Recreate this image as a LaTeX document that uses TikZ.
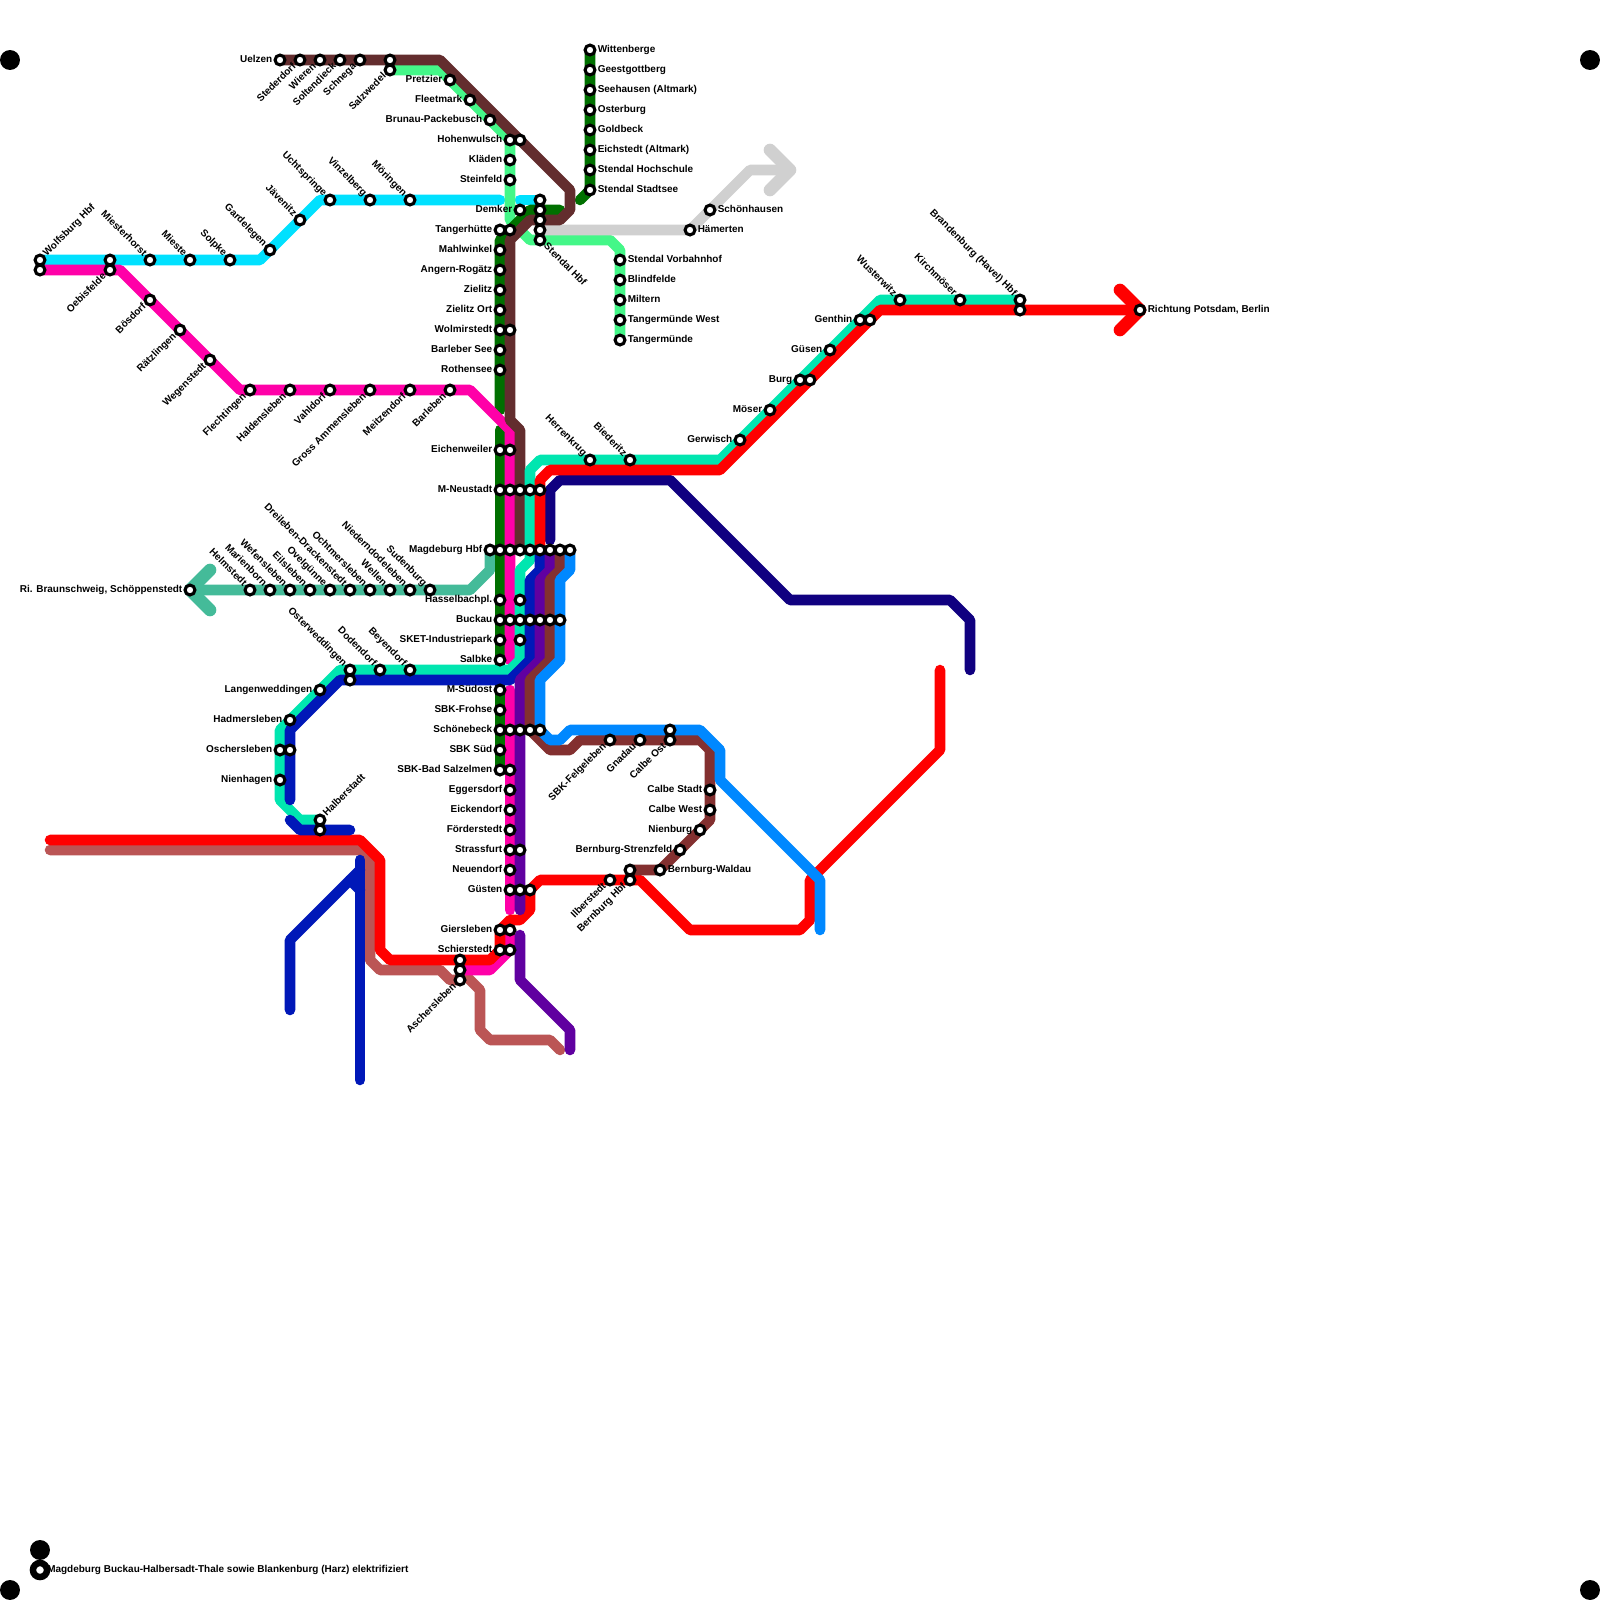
\documentclass[tikz,border=0pt]{standalone}
\usepackage{fontspec}
\setmainfont{Liberation Sans}
\usetikzlibrary{positioning}
\definecolor{lncyan}{HTML}{00E1FF}
\definecolor{lnpink}{HTML}{FF00A8}
\definecolor{lnbrown}{HTML}{632D2E}
\definecolor{lnlime}{HTML}{44F788}
\definecolor{lngreen}{HTML}{007000}
\definecolor{lnteal}{HTML}{00E6B0}
\definecolor{lnnavy}{HTML}{100080}
\definecolor{lnblue}{HTML}{0018B8}
\definecolor{lnpurple}{HTML}{6000A0}
\definecolor{lnrust}{HTML}{833030}
\definecolor{lnsky}{HTML}{0088FF}
\definecolor{lnrose}{HTML}{BB5555}
\definecolor{lnsage}{HTML}{44BB99}
\definecolor{lngray}{HTML}{D0D0D0}
\tikzset{
  track/.style={line width=7.5pt, line cap=round, line join=round},
  barb/.style={track, line width=9pt},
  stop/.style={circle, draw=black, fill=white, line width=2.2pt, minimum size=7pt, inner sep=0pt, outer sep=0pt},
  lab/.style={font=\bfseries\fontsize{7.1}{8}\selectfont, inner sep=0pt, text=black, text height=5.1pt, text depth=1.5pt},
  labw/.style={lab, anchor=east},
  labe/.style={lab, anchor=west},
  labnw/.style={lab, anchor=east, rotate=-45},
  labsw/.style={lab, anchor=east, rotate=45},
  labne/.style={lab, anchor=west, rotate=45},
  labse/.style={lab, anchor=west, rotate=-45},
  corner/.style={circle, fill=black, minimum size=14.2pt, inner sep=0pt, outer sep=0pt},
}
\begin{document}
\begin{tikzpicture}[x=0.25cm, y=-0.25cm]
  \useasboundingbox (0,0) rectangle (160,160);
  % lines
  \draw[track, lncyan] (4,26) -- (26,26) -- (32,20) -- (50,20);
  \draw[track, lncyan] (52,20) -- (54,20);
  \draw[track, lnlime] (39,7) -- (44,7) -- (51,14) -- (51,22) -- (53,24) -- (61,24) -- (62,25) -- (62,34);
  \draw[track, lnsage] (49,55) -- (49,57) -- (47,59) -- (19,59);
  \draw[barb, lnsage] (21,57) -- (19,59) -- (21,61);
  \draw[track, lngray] (54,23) -- (69,23) -- (75,17) -- (79,17);
  \draw[barb, lngray] (77,15) -- (79,17) -- (77,19);
  \draw[track, lnrose] (5,85) -- (36,85) -- (37,86) -- (37,96) -- (38,97) -- (44,97) -- (45,98) -- (46,98);
  \draw[track, lnrose] (46,97) -- (48,99) -- (48,103) -- (49,104) -- (55,104) -- (56,105);
  \draw[track, lnnavy] (55,54) -- (55,49) -- (56,48) -- (67,48) -- (79,60) -- (95,60) -- (97,62) -- (97,67);
  \draw[track, lngreen] (59,5) -- (59,19) -- (58,20);
  \draw[track, lngreen] (56,21) -- (53,21) -- (50,24) -- (50,41);
  \draw[track, lngreen] (50,43) -- (50,77);
  \draw[track, lnpink] (4,27) -- (12,27) -- (24,39) -- (47,39) -- (51,43) -- (51,66);
  \draw[track, lnpink] (51,69) -- (51,91);
  \draw[track, lnpink] (51,93) -- (51,95) -- (49,97) -- (46,97);
  \draw[track, lnbrown] (28,6) -- (44,6) -- (57,19) -- (57,21) -- (56,22) -- (53,22) -- (51,24) -- (51,42) -- (52,43) -- (52,55);
  \draw[track, lnteal] (102,30) -- (88,30) -- (72,46) -- (54,46) -- (53,47) -- (53,56) -- (52,57) -- (52,66) -- (51,67) -- (34,67) -- (28,73) -- (28,80) -- (30,82) -- (32,82);
  \draw[track, red] (5,84) -- (36,84) -- (38,86) -- (38,95) -- (39,96) -- (49,96) -- (50,95) -- (50,93) -- (51,92) -- (52,92) -- (53,91) -- (53,89) -- (54,88) -- (64,88) -- (69,93) -- (80,93) -- (81,92) -- (81,88) -- (94,75) -- (94,67);
  \draw[track, red] (54,55) -- (54,48) -- (55,47) -- (72,47) -- (88,31) -- (114,31);
  \draw[barb, red] (112,29) -- (114,31) -- (112,33);
  \draw[track, lnblue] (54,55) -- (54,57) -- (53,58) -- (53,66) -- (51,68) -- (34,68) -- (29,73) -- (29,80);
  \draw[track, lnblue] (29,82) -- (30,83) -- (35,83);
  \draw[track, lnblue] (36,86) -- (36,108);
  \draw[track, lnblue] (29,101) -- (29,94) -- (36,87);
  \draw[track, lnblue] (35,88) -- (36,89);
  \draw[track, lnpurple] (55,55) -- (55,57) -- (54,58) -- (54,66) -- (52,68) -- (52,91);
  \draw[track, lnpurple] (52,93.5) -- (52,98) -- (57,103) -- (57,105);
  \draw[track, lnrust] (56,55) -- (56,57) -- (55,58) -- (55,66) -- (53,68) -- (53,73) -- (55,75) -- (57,75) -- (58,74) -- (70,74) -- (71,75) -- (71,82) -- (66,87) -- (63,87);
  \draw[track, lnsky] (57,55) -- (57,57) -- (56,58) -- (56,66) -- (54,68) -- (54,73) -- (55,74) -- (56,74) -- (57,73) -- (70,73) -- (72,75) -- (72,78) -- (82,88) -- (82,93);
  % corner marks
  \node[corner] (cornera) at (1,6) {};
  \node[corner] (cornerb) at (159,6) {};
  \node[corner] (cornerc) at (1,159) {};
  \node[corner] (cornere) at (159,159) {};
  \node[corner] (cornerd) at (4,155) {};
  \node[circle, draw=black, fill=white, line width=4.6pt, minimum size=10pt, inner sep=0pt, outer sep=0pt] (note) at (4,157) {};
  \node[labe] at (4.7,157) {Magdeburg Buckau-Halbersadt-Thale sowie Blankenburg (Harz) elektrifiziert};
  % stops without a name of their own
  \foreach \x/\y in {4/27, 11/26, 39/6, 52/14, 51/23, 51/33, 51/45, 51/49, 52/49, 53/49, 54/49,
    50/55, 51/55, 52/55, 53/55, 54/55, 55/55, 56/55, 57/55, 52/60, 51/62, 52/62, 53/62, 54/62, 55/62, 56/62,
    52/64, 35/68, 29/75, 51/73, 52/73, 53/73, 54/73, 51/77, 52/85, 52/89, 53/89, 51/93, 51/95,
    46/96, 46/97, 54/20, 54/21, 54/22, 54/23, 32/83, 67/73, 63/87, 81/38, 87/32, 102/31}
    \node[stop] (s\x-\y) at (\x,\y) {};
  % labels to the left
  \foreach \x/\y/\t in {28/6/Uelzen, 45/8/Pretzier, 47/10/Fleetmark, 49/12/Brunau-Packebusch, 51/14/Hohenwulsch,
    51/16/Kläden, 51/18/Steinfeld, 52/21/Demker, 50/23/Tangerhütte, 50/25/Mahlwinkel, 50/27/Angern-Rogätz,
    50/29/Zielitz, 50/31/Zielitz Ort, 50/33/Wolmirstedt, 50/35/Barleber See, 50/37/Rothensee, 50/45/Eichenweiler,
    50/49/M-Neustadt, 49/55/Magdeburg Hbf, 50/60/Hasselbachpl., 50/62/Buckau, 50/64/SKET-Industriepark, 50/66/Salbke,
    50/69/M-Südost, 50/71/SBK-Frohse, 50/73/Schönebeck, 50/75/SBK Süd, 50/77/SBK-Bad Salzelmen, 51/79/Eggersdorf,
    51/81/Eickendorf, 51/83/Förderstedt, 51/85/Strassfurt, 51/87/Neuendorf, 51/89/Güsten, 50/93/Giersleben,
    50/95/Schierstedt, 19/59/{Ri. Braunschweig, Schöppenstedt}, 32/69/Langenweddingen, 29/72/Hadmersleben,
    28/75/Oschersleben, 28/78/Nienhagen, 86/32/Genthin, 83/35/Güsen, 80/38/Burg, 77/41/Möser, 74/44/Gerwisch,
    71/79/Calbe Stadt, 71/81/Calbe West, 70/83/Nienburg, 68/85/Bernburg-Strenzfeld}
    \path (\x,\y) node[stop] (s\x-\y) {} ++(-0.75,0) node[labw] {\t};
  % labels to the right
  \foreach \x/\y/\t in {59/5/Wittenberge, 59/7/Geestgottberg, 59/9/Seehausen (Altmark), 59/11/Osterburg, 59/13/Goldbeck,
    59/15/Eichstedt (Altmark), 59/17/Stendal Hochschule, 59/19/Stendal Stadtsee, 62/26/Stendal Vorbahnhof,
    62/28/Blindfelde, 62/30/Miltern, 62/32/Tangermünde West, 62/34/Tangermünde, 71/21/Schönhausen, 69/23/Hämerten,
    114/31/{Richtung Potsdam, Berlin}, 66/87/Bernburg-Waldau}
    \path (\x,\y) node[stop] (s\x-\y) {} ++(0.75,0) node[labe] {\t};
  % slanted labels, up and left
  \foreach \x/\y/\t in {15/26/Miesterhorst, 19/26/Mieste, 23/26/Solpke, 27/25/Gardelegen, 30/22/Jävenitz, 33/20/Uchtspringe,
    37/20/Vinzelberg, 41/20/Möringen, 25/59/Helmstedt, 27/59/Marienborn, 29/59/Wefensleben, 31/59/Eilsleben, 33/59/Ovelgünne,
    35/59/Dreileben-Drackenstedt, 37/59/Ochtmersleben, 39/59/Wellen, 41/59/Niederndodeleben, 43/59/Sudenburg,
    35/67/Osterweddingen, 38/67/Dodendorf, 41/67/Beyendorf, 59/46/Herrenkrug, 63/46/Biederitz, 90/30/Wusterwitz,
    96/30/Kirchmöser, 102/30/Brandenburg (Havel) Hbf}
    \path (\x,\y) node[stop] (s\x-\y) {} ++(-0.5,-0.5) node[labnw] {\t};
  % slanted labels, down and left
  \foreach \x/\y/\t in {30/6/Stederdorf, 32/6/Wieren, 34/6/Soltendieck, 36/6/Schnega, 39/7/Salzwedel, 11/27/Oebisfelde,
    15/30/Bösdorf, 18/33/Rätzlingen, 21/36/Wegenstedt, 25/39/Flechtingen, 29/39/Haldensleben, 33/39/Vahldorf,
    37/39/Gross Ammensleben, 41/39/Meitzendorf, 45/39/Barleben, 46/98/Aschersleben, 61/74/SBK-Felgeleben, 64/74/Gnadau,
    67/74/Calbe Ost, 61/88/Ilberstedt, 63/88/Bernburg Hbf}
    \path (\x,\y) node[stop] (s\x-\y) {} ++(-0.5,0.5) node[labsw] {\t};
  % slanted labels, up and right
  \foreach \x/\y/\t in {4/26/Wolfsburg Hbf, 32/82/Halberstadt}
    \path (\x,\y) node[stop] (s\x-\y) {} ++(0.5,-0.5) node[labne] {\t};
  \path (54,24) node[stop] (s54-24) {} ++(0.5,0.5) node[labse] {Stendal Hbf};
\end{tikzpicture}
\end{document}
